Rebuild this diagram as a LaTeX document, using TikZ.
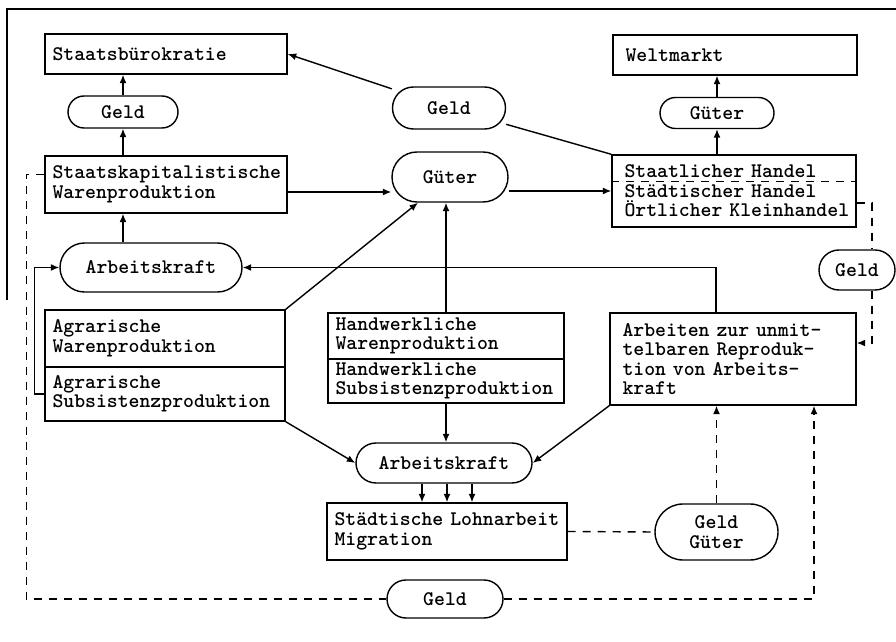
\documentclass[tikz,border=0pt]{standalone}
\usetikzlibrary{arrows.meta}
\tikzset{
  box/.style n args={3}{draw, rectangle, align=left, inner xsep=#3, inner ysep=0pt,
    minimum width=#1*0.2mm, minimum height=#2*0.2mm,
    /utils/exec={\pgfmathsetlengthmacro\kastenbreite{#1*0.2mm-2*#3}},
    text width=\kastenbreite},
  kasten/.style 2 args={box={#1}{#2}{1.5mm}},
  rkasten/.style 2 args={box={#1}{#2}{2.5mm}},
  pille/.style 2 args={draw, rectangle, rounded corners=#2*0.1mm, align=center,
    inner sep=0pt, minimum width=#1*0.2mm, minimum height=#2*0.2mm},
  strich/.style={dash pattern=on 1.6mm off 1.4mm},
}

\begin{document}
\begin{tikzpicture}[x=0.2mm, y=-0.2mm, line width=0.8pt,
  font=\ttfamily\bfseries\fontsize{11.8}{11.1}\selectfont,
  >={Latex[length=1.7mm,width=1.4mm]}]
\useasboundingbox (0,0) rectangle (896,642);
\draw (7,300) -- (7,9) -- (896,9);

\node [kasten={242}{40}] (sb) at (166,54) {Staatsbürokratie};
\node [rkasten={244}{40}] (wm) at (735,55) {Weltmarkt};
\node [pille={110}{32}] (geldL) at (123,112) {Geld};
\node [pille={113}{42}] (geldM) at (449,108) {Geld};
\node [pille={114}{31}] (gueterR) at (717,113) {Güter};
\node [kasten={242}{57}] (sk) at (166,184.5) {Staatskapitalistische\\Warenproduktion};
\node [pille={116}{50}] (gueterM) at (450,177) {Güter};
\node [rkasten={244}{72}] (handel) at (734,191) {Staatlicher Handel\\Städtischer Handel\\Örtlicher~Kleinhandel};
\node [pille={182}{49}] (akO) at (151,267.5) {Arbeitskraft};
\node [pille={76}{40}] (geldRt) at (857,270) {Geld};
\node [kasten={240}{57}] (agrW) at (165,338.5) {Agrarische\\Warenproduktion};
\node [kasten={240}{54}] (agrS) at (165,394) {Agrarische\\Subsistenzproduktion};
\node [kasten={236}{46}] (hwW) at (446,336) {Handwerkliche\\Warenproduktion};
\node [kasten={236}{44}] (hwS) at (446,381) {Handwerkliche\\Subsistenzproduktion};
\node [rkasten={246}{92}] (arb) at (733,359) {Arbeiten zur unmit-\\telbaren Reproduk-\\tion von Arbeits-\\kraft};
\node [pille={176}{40}] (akU) at (444,463) {Arbeitskraft};
\node [kasten={240}{57}] (stl) at (447,531.5) {Städtische~Lohnarbeit\\Migration};
\node [pille={123}{56}] (gg) at (716.5,532) {Geld\\Güter};
\node [pille={116}{38}] (geldB) at (445,599) {Geld};

% Staatssektor
\draw [->] (sk.north -| geldL) -- (geldL);
\draw [->] (geldL) -- (geldL |- sb.south);
\draw [->] (akO.north -| geldL) -- (sk.south -| geldL);
\draw [->] ([yshift=-1.5mm]sk.east) -- ([yshift=-1.5mm]sk.east -| gueterM.west);
\draw [->] (gueterM.east |- handel.west) -- (handel.west);
\draw (handel.north west) -- (geldM);
\draw [->] (geldM) -- (sb.east);
\draw [->] (handel.north -| gueterR) -- (gueterR);
\draw [->] (gueterR) -- (gueterR |- wm.south);
\draw [strich] ([yshift=-5.4mm]handel.north west) -- ([yshift=-5.4mm]handel.north east);

% Arbeitskraft
\draw [->] (agrS.west) -- ++(-2mm,0) |- (akO.west);
\draw [->] ([xshift=-3.4mm]arb.north) |- (akO.east);
\draw [->] (agrW.north east) -- ([xshift=-6.4mm]gueterM.south);
\draw [->] (hwW.north) -- (hwW.north |- gueterM.south);
\draw [->] (hwS.south) -- (hwS.south |- akU.north);
\draw [->] (agrS.south east) -- (akU.west);
\draw [->] (arb.south west) -- (akU.east);
\foreach \dx in {-5,0,5}
  \draw [->] ([xshift=\dx mm]stl.north |- akU.south) -- ([xshift=\dx mm]stl.north);

% Geldfluesse
\draw [strich] ([yshift=-2.4mm]handel.east) -| ([xshift=3mm]geldRt.north);
\draw [strich,->] ([xshift=3mm]geldRt.south) |- ([yshift=3.2mm]arb.east);
\draw [strich] ([yshift=2mm]sk.west) -- ++(-3.6mm,0) |- (geldB.west);
\draw [strich,->] (geldB.east) -| ([xshift=16.2mm]arb.south);
\draw [strich,->] (gg.north) -- (gg.north |- arb.south);
\draw [strich] (stl.east) -- (gg.west);
\end{tikzpicture}
\end{document}
